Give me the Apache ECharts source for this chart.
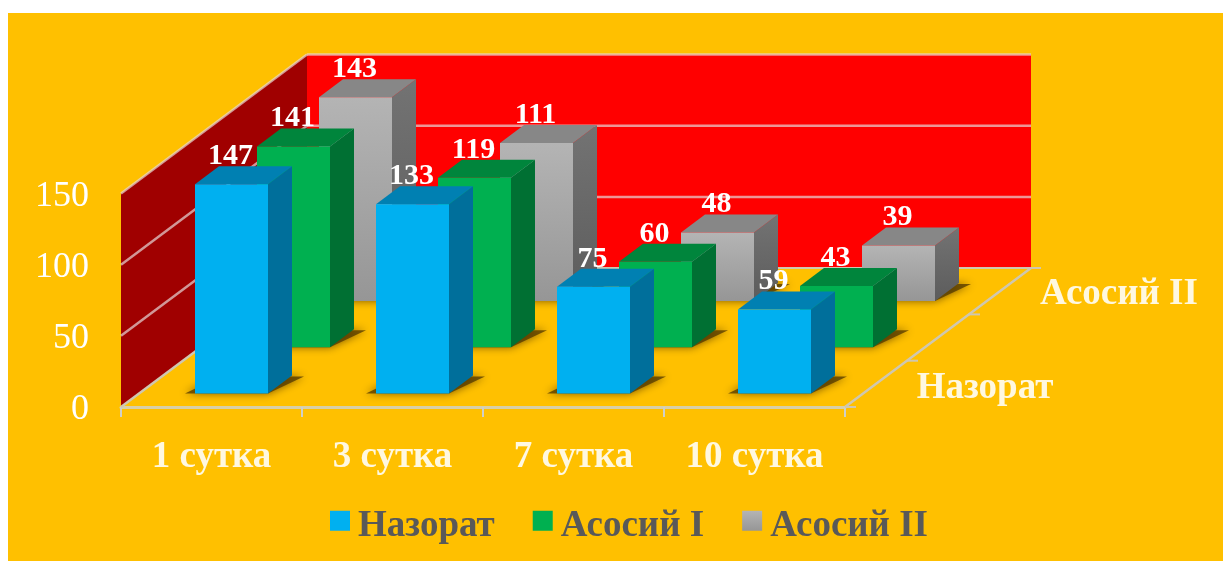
<!DOCTYPE html>
<html><head><meta charset="utf-8">
<style>html,body{margin:0;padding:0;background:#fff}#c{width:1223px;height:561px}</style>
<script src="https://cdn.jsdelivr.net/npm/echarts@6/dist/echarts.min.js"></script>
</head><body><div id="c"></div>
<script>
var categories = ['1 сутка', '3 сутка', '7 сутка', '10 сутка'];
var seriesNames = ['Назорат', 'Асосий I', 'Асосий II'];
var nazorat = [147, 133, 75, 59];
var asosiy1 = [141, 119, 60, 43];
var asosiy2 = [143, 111, 48, 39];
var yTicks = [0, 50, 100, 150];

var FONT = '"Liberation Serif", serif';
var gr = function (a, b) { return new echarts.graphic.LinearGradient(0, 0, 0, 1, [{offset: 0, color: a}, {offset: 1, color: b}]); };
var palette = [
  {front: '#00B0F0', side: '#006F9B', top: '#0080B2'},
  {front: '#00B050', side: '#007033', top: '#00853C'},
  {front: gr('#B4B4B4', '#969696'), side: gr('#737373', '#5C5C5C'), top: '#878787'}
];
// projection of the oblique floor (pixels per depth slot)
var STEP_X = 62, STEP_Y = 46.3, BAR_W = 73, SIDE_X = 24, SIDE_Y = 18, FRONT_DX = 20, FRONT_DY = 13.5;
var DEPTH_X = STEP_X * 3, DEPTH_Y = STEP_Y * 3;

function poly(points, fill, extra) {
  var s = {fill: fill};
  for (var k in (extra || {})) s[k] = extra[k];
  return {type: 'polygon', shape: {points: points}, style: s};
}
function line(x1, y1, x2, y2, color, w) {
  return {type: 'line', shape: {x1: x1, y1: y1, x2: x2, y2: y2}, style: {stroke: color, lineWidth: w}};
}

function renderWalls(params, api) {
  var n = categories.length, lo = 0, hi = yTicks[yTicks.length - 1];
  var y0 = api.coord([0, lo])[1], yT = api.coord([0, hi])[1];
  var band = api.size([1, 0])[0];
  var xL = api.coord([0, lo])[0] - band / 2, xR = xL + band * n;
  var L = '#CFC7B0', children = [];
  children.push(poly([[xL + DEPTH_X, yT - DEPTH_Y], [xR + DEPTH_X, yT - DEPTH_Y], [xR + DEPTH_X, y0 - DEPTH_Y], [xL + DEPTH_X, y0 - DEPTH_Y]], '#FF0000'));
  children.push(poly([[xL, yT], [xL + DEPTH_X, yT - DEPTH_Y], [xL + DEPTH_X, y0 - DEPTH_Y], [xL, y0]], '#A00000'));
  yTicks.forEach(function (t) {
    var y = api.coord([0, t])[1];
    var c = t === lo ? L : 'rgba(230,215,215,0.7)';
    children.push(line(xL, y, xL + DEPTH_X, y - DEPTH_Y, c, 2.5));
    if (t !== lo) children.push(line(xL + DEPTH_X, y - DEPTH_Y, xR + DEPTH_X, y - DEPTH_Y, c, 2.5));
  });
  children.push(line(xR, y0, xR + DEPTH_X, y0 - DEPTH_Y, L, 2.5));
  children.push(line(xL + DEPTH_X, y0 - DEPTH_Y, xR + DEPTH_X + 10, y0 - DEPTH_Y, L, 2));
  [0, 1 / 3, 2 / 3].forEach(function (f) {
    var x = xR + DEPTH_X * f, y = y0 - DEPTH_Y * f;
    children.push(line(x, y, x + 11, y, L, 2));
  });
  [[seriesNames[0], 985, 388], [seriesNames[2], 1119, 294]].forEach(function (d) {
    children.push({type: 'text', style: {text: d[0], x: d[1], y: d[2], fill: '#FFF8E0', font: 'bold 37px ' + FONT, textAlign: 'center', textVerticalAlign: 'middle'}});
  });
  return {type: 'group', children: children};
}

function makeBars(depth) {
  return function (params, api) {
    var cat = api.value(0), val = api.value(1);
    var c0 = api.coord([cat, 0]), c1 = api.coord([cat, val]);
    var cx = c0[0] + FRONT_DX + STEP_X * depth;
    var base = c0[1] - FRONT_DY - STEP_Y * depth;
    var top = base - (c0[1] - c1[1]);
    var x0 = cx - BAR_W / 2, x1 = cx + BAR_W / 2;
    var p = palette[depth];
    return {type: 'group', children: [
      poly([[x0 - 10, base], [x1, base], [x1 + 36, base - SIDE_Y + 1], [x0 + 25, base - SIDE_Y + 1]], 'rgba(80,55,0,0.75)', {shadowBlur: 9, shadowColor: 'rgba(70,45,0,0.95)'}),
      poly([[x1, top], [x1 + SIDE_X, top - SIDE_Y], [x1 + SIDE_X, base - SIDE_Y], [x1, base]], p.side),
      poly([[x0, top], [x0 + SIDE_X, top - SIDE_Y], [x1 + SIDE_X, top - SIDE_Y], [x1, top]], p.top),
      {type: 'rect', shape: {x: x0, y: top, width: BAR_W, height: base - top}, style: {fill: p.front}},
      {type: 'text', style: {text: String(val), x: cx - 1, y: top - SIDE_Y + 5, fill: '#fff', font: 'bold 30px ' + FONT, textAlign: 'center', textVerticalAlign: 'bottom'}}
    ]};
  };
}

function seriesData(values) { return values.map(function (v, i) { return [i, v]; }); }
var seriesValues = [nazorat, asosiy1, asosiy2];
var swatch = ['#00B0F0', '#00B050', gr('#B4B4B4', '#969696')];

var series = [{type: 'custom', name: '__walls', silent: true, z: 1, clip: false, animation: false,
  data: [[0, 0]], encode: {x: 0, y: 1}, renderItem: renderWalls}];
seriesNames.forEach(function (name, d) {
  series.push({type: 'custom', name: name, z: 10 - d, clip: false, animation: false,
    itemStyle: {color: swatch[d]},
    data: seriesData(seriesValues[d]), encode: {x: 0, y: 1}, renderItem: makeBars(d)});
});

var chart = echarts.init(document.getElementById('c'), null, {renderer: 'canvas'});
chart.setOption({
  animation: false,
  backgroundColor: '#fff',
  graphic: [{type: 'rect', z: -10, silent: true, shape: {x: 8, y: 13, width: 1215, height: 548}, style: {fill: '#FFC000'}}],
  legend: {
    data: seriesNames, left: 325, top: 503, itemWidth: 20, itemHeight: 20, itemGap: 38, icon: 'rect',
    selectedMode: false,
    formatter: function (name) { return '{t|' + name + '}'; },
    textStyle: {rich: {t: {color: '#595959', fontFamily: FONT, fontWeight: 'bold', fontSize: 37, padding: [11.5, 0, 0, 3]}}}
  },
  grid: {left: 121, right: 378, top: 193.5, bottom: 154, containLabel: false},
  xAxis: {
    type: 'category', data: categories, boundaryGap: true,
    axisLine: {show: true, lineStyle: {color: '#D8CFA8', width: 3}},
    axisTick: {show: true, length: 10, lineStyle: {color: '#CFCFC8', width: 2}},
    axisLabel: {color: '#FFF8E0', fontFamily: FONT, fontWeight: 'bold', fontSize: 37, margin: 32}
  },
  yAxis: {
    type: 'value', min: 0, max: 150, interval: 50,
    axisLine: {show: false}, axisTick: {show: false}, splitLine: {show: false},
    axisLabel: {margin: 32, formatter: '{v|{value}}', rich: {v: {color: '#fff', fontFamily: FONT, fontSize: 36, padding: [6, 0, 0, 0]}}}
  },
  series: series
});
</script></body></html>
